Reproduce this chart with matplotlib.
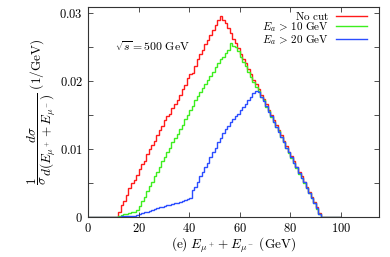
import matplotlib
matplotlib.use('Agg')
import matplotlib.pyplot as plt
import numpy as np

plt.rcParams['mathtext.fontset'] = 'cm'
plt.rcParams['font.family'] = 'DejaVu Serif'

# 1 GeV bins from 0 to 100
edges = np.arange(0, 101, 1)

# bins 12..91, zero elsewhere
no_cut = [0.0008, 0.0018, 0.0024, 0.0032, 0.0042, 0.0050, 0.0055, 0.0062,
          0.0070, 0.0078, 0.0083, 0.0092, 0.0100, 0.0106, 0.0112, 0.0120,
          0.0128, 0.0134, 0.0143, 0.0148, 0.0152, 0.0160, 0.0166, 0.0172,
          0.0180, 0.0188, 0.0194, 0.0204, 0.0210, 0.0212, 0.0222, 0.0232,
          0.0240, 0.0246, 0.0254, 0.0260, 0.0268, 0.0275, 0.0282, 0.0290,
          0.0296, 0.0290, 0.0285, 0.0278, 0.0270, 0.0262, 0.0256, 0.0248,
          0.0240, 0.0232, 0.0226, 0.0218, 0.0210, 0.0202, 0.0195, 0.0188,
          0.0180, 0.0174, 0.0166, 0.0158, 0.0150, 0.0142, 0.0135, 0.0128,
          0.0120, 0.0112, 0.0104, 0.0096, 0.0090, 0.0082, 0.0074, 0.0066,
          0.0060, 0.0052, 0.0044, 0.0037, 0.0030, 0.0022, 0.0014, 0.0006]

cut10 = [0.0002, 0.0003, 0.0004, 0.0005, 0.0006, 0.0007, 0.0008, 0.0010,
         0.0016, 0.0024, 0.0030, 0.0038, 0.0046, 0.0052, 0.0060, 0.0066,
         0.0074, 0.0082, 0.0088, 0.0096, 0.0102, 0.0110, 0.0116, 0.0122,
         0.0130, 0.0136, 0.0144, 0.0150, 0.0158, 0.0164, 0.0172, 0.0178,
         0.0184, 0.0190, 0.0196, 0.0202, 0.0208, 0.0214, 0.0220, 0.0226,
         0.0232, 0.0236, 0.0242, 0.0246, 0.0256, 0.0252, 0.0250, 0.0244,
         0.0236, 0.0228, 0.0222, 0.0214, 0.0206, 0.0198, 0.0192, 0.0185,
         0.0176, 0.0172, 0.0162, 0.0156, 0.0147, 0.0140, 0.0132, 0.0126,
         0.0117, 0.0110, 0.0101, 0.0094, 0.0087, 0.0080, 0.0072, 0.0064,
         0.0058, 0.0050, 0.0042, 0.0035, 0.0028, 0.0020, 0.0012, 0.0004]

cut20 = [0.0000, 0.0001, 0.0001, 0.0001, 0.0002, 0.0002, 0.0002, 0.0003,
         0.0004, 0.0006, 0.0007, 0.0008, 0.0009, 0.0011, 0.0012, 0.0013,
         0.0014, 0.0015, 0.0016, 0.0017, 0.0018, 0.0019, 0.0020, 0.0021,
         0.0022, 0.0024, 0.0025, 0.0026, 0.0028, 0.0040, 0.0044, 0.0052,
         0.0060, 0.0066, 0.0074, 0.0080, 0.0088, 0.0096, 0.0102, 0.0110,
         0.0116, 0.0124, 0.0130, 0.0134, 0.0140, 0.0144, 0.0148, 0.0152,
         0.0158, 0.0162, 0.0166, 0.0172, 0.0176, 0.0182, 0.0186, 0.0184,
         0.0177, 0.0171, 0.0164, 0.0155, 0.0148, 0.0140, 0.0133, 0.0125,
         0.0118, 0.0110, 0.0102, 0.0095, 0.0088, 0.0080, 0.0073, 0.0065,
         0.0058, 0.0051, 0.0043, 0.0036, 0.0028, 0.0021, 0.0013, 0.0005]

labels = [r'$\mathrm{No\ cut}$', r'$E_a\,>\,10\ \mathrm{GeV}$', r'$E_a\,>\,20\ \mathrm{GeV}$']
colors = ['#ff1a1a', '#3dee1e', '#2b4dff']


def full(vals):
    h = np.zeros(len(edges) - 1)
    h[12:12 + len(vals)] = vals
    return h


fig = plt.figure(figsize=(3.9, 2.57), dpi=100)
ax = fig.add_axes([0.2256, 0.1556, 0.7462, 0.8172])

for vals, lab, c in zip([no_cut, cut10, cut20], labels, colors):
    ax.stairs(full(vals), edges, color=c, lw=1.0, label=lab, baseline=None)

ax.set_xlim(0, 115)
ax.set_ylim(0, 0.0309)
ax.set_xticks([0, 20, 40, 60, 80, 100])
ax.set_xticklabels([r'$%d$' % v for v in [0, 20, 40, 60, 80, 100]])
ax.set_yticks([0, 0.01, 0.02, 0.03])
ax.set_yticklabels([r'$0$', r'$0.01$', r'$0.02$', r'$0.03$'])
ax.set_yticks([0.005, 0.015, 0.025], minor=True)
ax.tick_params(which='both', direction='in', top=True, right=True,
               length=3.5, width=0.6, labelsize=9, colors='#333333',
               labelcolor='black')
for s in ax.spines.values():
    s.set_linewidth(0.8)
    s.set_color('#333333')

ax.set_xlabel(r'$(\mathrm{e})\ E_{\mu^+}+E_{\mu^-}\ (\mathrm{GeV})$', fontsize=9.5, labelpad=1)
ax.set_ylabel(r'$\dfrac{1}{\sigma}\dfrac{d\sigma}{d(E_{\mu^+}+E_{\mu^-})}\ (1/\mathrm{GeV})$',
              fontsize=9.5, labelpad=1)

ax.text(0.092, 0.81, r'$\sqrt{s}=500\ \mathrm{GeV}$', transform=ax.transAxes,
        fontsize=8.5, va='center')

leg = ax.legend(loc='upper right', markerfirst=False, frameon=False,
                fontsize=8, handlelength=2.8, handletextpad=0.6,
                labelspacing=-0.12, borderaxespad=0.3, bbox_to_anchor=(0.985, 1.025))
for t in leg.get_texts():
    t.set_ha('right')

fig.savefig('out.png', dpi=100)
